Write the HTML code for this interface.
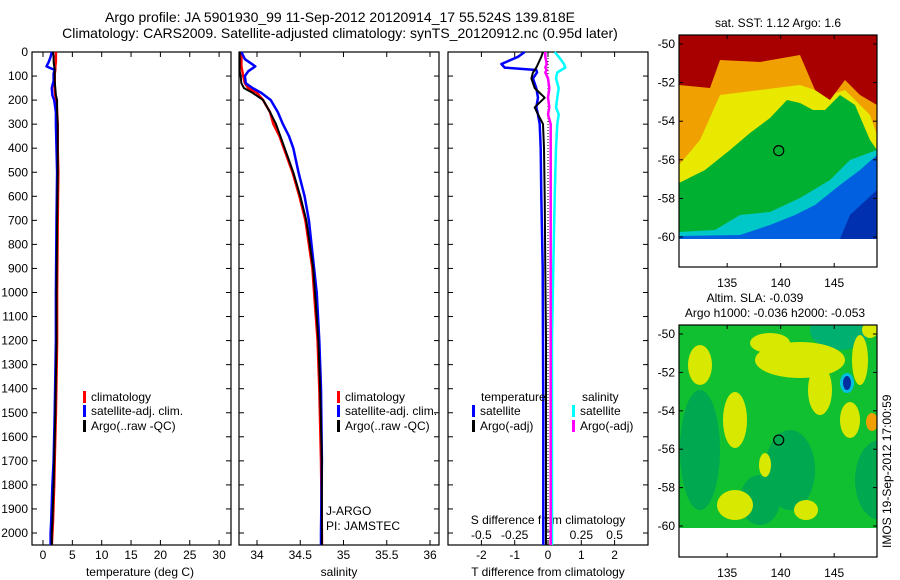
<!DOCTYPE html>
<html><head><meta charset="utf-8"><style>
body{margin:0;background:#fff;width:900px;height:580px;overflow:hidden}
svg{display:block;font-family:"Liberation Sans",sans-serif}
</style></head><body>
<svg id="chart" width="900" height="580" viewBox="0 0 900 580" xmlns="http://www.w3.org/2000/svg">
<defs>
<clipPath id="clipTop"><rect x="679" y="35" width="198" height="204"/></clipPath>
<clipPath id="clipBot"><rect x="679" y="325" width="198" height="203"/></clipPath>
</defs>
<text x="340" y="22" font-size="14" text-anchor="middle">Argo profile: JA 5901930_99 11-Sep-2012 20120914_17 55.524S 139.818E</text>
<text x="340" y="38" font-size="14" text-anchor="middle">Climatology: CARS2009. Satellite-adjusted climatology: synTS_20120912.nc (0.95d later)</text>
<g id="maps"></g>
<g id="plots"></g>
<text transform="translate(891,548) rotate(-90)" font-size="12">IMOS 19-Sep-2012 17:00:59</text>
</svg>
<script>
// ---- data ----
const depthT = [0,20,40,60,75,90,120,150,180,200,250,300,400,500,700,1000,1200,1500,1700,1800,1950,2000,2050];
const tempClim = [2.2,2.2,2.2,2.1,2.1,2.0,2.0,2.0,2.1,2.3,2.4,2.5,2.5,2.6,2.5,2.4,2.4,2.2,2.0,1.9,1.7,1.6,1.5];
const tempSat  = [1.5,1.3,1.0,0.6,2.0,1.8,1.8,1.5,1.6,1.9,2.2,2.2,2.3,2.4,2.3,2.2,2.2,2.0,1.8,1.6,1.4,1.3,1.3];
const tempArgo = [1.7,1.8,1.8,1.9,2.0,2.0,2.0,2.1,2.2,2.4,2.4,2.5,2.5,2.5,2.4,2.3,2.3,2.1,1.9,1.8,1.6,1.5,1.5];
const depthS = [0,30,60,80,100,130,150,170,200,250,300,350,400,500,600,700,800,900,1000,1200,1400,1700,2000,2050];
const salClim = [33.82,33.82,33.82,33.83,33.84,33.86,33.9,34.0,34.07,34.15,34.19,34.26,34.31,34.41,34.49,34.56,34.6,34.64,34.66,34.7,34.72,34.74,34.75,34.75];
const salSat  = [33.82,33.86,33.98,33.9,33.86,33.87,33.95,34.05,34.16,34.24,34.3,34.37,34.42,34.48,34.55,34.6,34.63,34.66,34.69,34.72,34.74,34.75,34.74,34.74];
const salArgo = [33.8,33.8,33.8,33.8,33.81,33.82,33.85,33.95,34.07,34.15,34.22,34.27,34.32,34.42,34.5,34.57,34.61,34.65,34.67,34.71,34.73,34.75,34.75,34.75];
const depthD = [0,20,50,65,75,85,110,150,190,230,260,300,400,600,900,1200,1500,1800,2050];
const dTsat  = [-0.7,-0.9,-1.4,-1.3,-0.35,-0.33,-0.45,-0.35,-0.3,-0.35,-0.3,-0.25,-0.22,-0.2,-0.16,-0.15,-0.14,-0.14,-0.14];
const dTargo = [-0.15,-0.2,-0.3,-0.35,-0.4,-0.45,-0.5,-0.4,-0.1,-0.4,-0.3,-0.15,-0.12,-0.1,-0.08,-0.06,-0.06,-0.06,-0.06];
const dSsat  = [0.05,0.08,0.12,0.13,0.1,0.07,0.06,0.08,0.07,0.06,0.08,0.07,0.06,0.05,0.04,0.03,0.03,0.03,0.03];
const dSargo = [-0.02,-0.02,-0.01,-0.02,-0.01,-0.02,0.0,0.01,0.0,0.01,0.0,0.02,0.02,0.02,0.02,0.02,0.02,0.02,0.02];
const depthTicks = [0,100,200,300,400,500,600,700,800,900,1000,1100,1200,1300,1400,1500,1600,1700,1800,1900,2000];
const tTicks = [0,5,10,15,20,25,30];
const sTicks = [34,34.5,35,35.5,36];
const dTTicks = [-2,-1,0,1,2];
const dSTicks = [-0.5,-0.25,0,0.25,0.5];
const dSTickLabels = ["-0.5","-0.25","0","0.25","0.5"];
const lonTicks = [135,140,145];
const latTicks = [-50,-52,-54,-56,-58,-60];
const floatPos = [139.818,-55.524];

const NS='http://www.w3.org/2000/svg';
const plots=document.getElementById('plots');
function mk(tag,attrs,parent){const e=document.createElementNS(NS,tag);for(const k in attrs)e.setAttribute(k,attrs[k]);(parent||plots).appendChild(e);return e;}
const TOP=52, BOT=545;
const yD = d => TOP + d*0.2405;
const xT = v => 43 + v*5.87;
const xS = v => 257 + (v-34)*86.5;
const xDT = v => 548 + v*33.3;
const xDS = v => 548 + v*133.3;

function frame(x0,x1,name){
  const r=mk('rect',{x:x0,y:TOP,width:x1-x0,height:BOT-TOP,fill:'none',stroke:'#000','stroke-width':1.2});
  
  
  depthTicks.forEach(d=>{const y=yD(d);mk('line',{x1:x0,y1:y,x2:x0+5,y2:y,stroke:'#000'});mk('line',{x1:x1-5,y1:y,x2:x1,y2:y,stroke:'#000'});});
}
function xticks(x0,x1,ticks,fx,labels,ly,name){
  ticks.forEach((t,i)=>{const x=fx(t);mk('line',{x1:x,y1:TOP,x2:x,y2:TOP+5,stroke:'#000'});mk('line',{x1:x,y1:BOT-5,x2:x,y2:BOT,stroke:'#000'});
    const tx=mk('text',{x:x,y:ly,'font-size':12,'text-anchor':'middle'});tx.textContent=labels?labels[i]:String(t);
    
    });
}
function line(depths,vals,fx,color,w,name){
  let p='';depths.forEach((d,i)=>{const x=fx(vals[i]);const y=yD(d);p+=(i?'L':'M')+x.toFixed(1)+','+y.toFixed(1);});
  const e=mk('path',{d:p,fill:'none',stroke:color,'stroke-width':w,'stroke-linejoin':'round'});
  
  
}
function txt(x,y,s,name,anchor,size){const t=mk('text',{x:x,y:y,'font-size':size||12,'text-anchor':anchor||'start'});t.textContent=s;
  
  return t;}
function leg(x,y,color,label,name){mk('rect',{x:x,y:y-10,width:3,height:12,fill:color});txt(x+8,y,label,name);}

// panel 1 temperature
frame(32,231,'temperature-axes');
depthTicks.forEach(d=>{txt(28,yD(d)+4,String(d),'depth-tick-label','end');});
xticks(32,231,tTicks,xT,null,559,'temperature-tick-label');
txt(140,576,'temperature (deg C)','temperature-axis-title','middle');
line(depthT,tempClim,xT,'#f00',2.5,'temp-climatology-line');
line(depthT,tempSat,xT,'#00f',2.5,'temp-satellite-line');
line(depthT,tempArgo,xT,'#000',2,'temp-argo-line');
leg(83,401,'#f00','climatology','legend-climatology');
leg(83,415,'#00f','satellite-adj. clim.','legend-satellite');
leg(83,430,'#000','Argo(..raw -QC)','legend-argo');

// panel 2 salinity
frame(239,439,'salinity-axes');
xticks(239,439,sTicks,xS,null,559,'salinity-tick-label');
txt(339,576,'salinity','salinity-axis-title','middle');
line(depthS,salClim,xS,'#f00',2.5,'sal-climatology-line');
line(depthS,salSat,xS,'#00f',2.5,'sal-satellite-line');
line(depthS,salArgo,xS,'#000',2,'sal-argo-line');
leg(337,401,'#f00','climatology','legend-climatology-s');
leg(337,415,'#00f','satellite-adj. clim.','legend-satellite-s');
leg(337,430,'#000','Argo(..raw -QC)','legend-argo-s');
txt(326,515,'J-ARGO','pi-program');
txt(326,530,'PI: JAMSTEC','pi-name');

// panel 3 differences
frame(448,648,'difference-axes');
xticks(448,648,dTTicks,xDT,null,559,'t-diff-tick-label');
dSTicks.forEach((t,i)=>{txt(xDS(t),539,dSTickLabels[i],'s-diff-tick-label','middle');});
txt(548,524,'S difference from climatology','s-diff-axis-title','middle');
txt(548,576,'T difference from climatology','t-diff-axis-title','middle');
mk('line',{x1:xDT(0),y1:TOP,x2:xDT(0),y2:BOT,stroke:'#000','stroke-dasharray':'1,2'});
line(depthD,dSsat,xDS,'#0ff',2.5,'s-diff-satellite-line');
line(depthD,dSargo,xDS,'#f0f',2.5,'s-diff-argo-line');
line(depthD,dTsat,xDT,'#00f',2.5,'t-diff-satellite-line');
line(depthD,dTargo,xDT,'#000',2,'t-diff-argo-line');
txt(481,401,'temperature','legend-temperature-header');
txt(582,401,'salinity','legend-salinity-header');
leg(472,415,'#00f','satellite','legend-t-satellite');
leg(472,430,'#000','Argo(-adj)','legend-t-argo');
leg(572,415,'#0ff','satellite','legend-s-satellite');
leg(572,430,'#f0f','Argo(-adj)','legend-s-argo');

// ---- maps ----
const maps=document.getElementById('maps');
function mm(tag,attrs,parent){return mk(tag,attrs,parent||maps);}
function mapAxes(top,bot,dataTop,dataBot,name){
  const x0=679,x1=877;
  const lon=v=>x0+(v-130.5)*(x1-x0)/18.5;
  const lat=v=>dataTop+9+(-50-v)*(dataBot-dataTop-11)/10;
  mm('rect',{x:x0,y:top,width:x1-x0,height:bot-top,fill:'none',stroke:'#000','stroke-width':1.2});
  lonTicks.forEach(v=>{const x=lon(v);mm('line',{x1:x,y1:top,x2:x,y2:top+4,stroke:'#000'});mm('line',{x1:x,y1:bot-4,x2:x,y2:bot,stroke:'#000'});
    const t=mm('text',{x:x,y:bot+20,'font-size':12,'text-anchor':'middle'});t.textContent=v;
    
    });
  latTicks.forEach(v=>{const y=lat(v);mm('line',{x1:x0,y1:y,x2:x0+4,y2:y,stroke:'#000'});mm('line',{x1:x1-4,y1:y,x2:x1,y2:y,stroke:'#000'});
    const t=mm('text',{x:x0-4,y:y+4,'font-size':12,'text-anchor':'end'});t.textContent=v;
    
    });
  const c=mm('circle',{cx:lon(floatPos[0]),cy:lat(floatPos[1]),r:5,fill:'none',stroke:'#000','stroke-width':1.2});
  
  
}
function poly(pts,fill,parent){const e=document.createElementNS(NS,'polygon');e.setAttribute('points',pts);e.setAttribute('fill',fill);parent.appendChild(e);}
// SST map
const sst=mm('g',{'clip-path':'url(#clipTop)'});


poly('679,35 877,35 877,239 679,239','#00c8c8',sst);
poly('679,239 877,239 877,155 860,170 840,185 815,205 795,215 770,225 740,235 679,236','#0060e0',sst);
poly('877,190 877,239 840,239 850,215','#0030b0',sst);
poly('679,35 877,35 877,150 850,160 830,180 800,198 770,212 740,215 715,230 679,232','#00b030',sst);
poly('679,35 877,35 877,150 870,140 855,105 840,95 825,110 813,110 800,103 787,100 770,118 750,133 730,150 705,170 679,183','#e8e800',sst);
poly('679,35 877,35 877,135 870,115 845,90 830,95 815,90 800,85 760,90 720,95 700,140 679,165','#f0a000',sst);
poly('679,35 877,35 877,105 860,95 845,80 830,100 815,90 800,55 760,62 720,60 710,88 679,85','#a80000',sst);
const sst2=mm('text',{x:778,y:27,'font-size':12,'text-anchor':'middle'});sst2.textContent='sat. SST: 1.12 Argo: 1.6';


mapAxes(35,267,35,239,'sst-map-axes');
// SLA map
const sla=mm('g',{'clip-path':'url(#clipBot)'});


poly('679,325 877,325 877,528 679,528','#10c030',sla);
[[700,450,20,60,'#00a850'],[790,470,25,40,'#00a850'],[880,480,25,40,'#00a850'],[840,330,30,20,'#00b070'],[760,500,20,25,'#00a850']].forEach(e=>mm('ellipse',{cx:e[0],cy:e[1],rx:e[2],ry:e[3],fill:e[4]},sla));
[[735,420,12,28],[800,360,45,18],[820,390,12,25],[770,343,20,10],[860,360,8,25],[850,420,10,18],[735,505,18,15],[806,510,12,10],[765,465,6,12],[700,365,12,20],[870,330,8,8]].forEach(e=>mm('ellipse',{cx:e[0],cy:e[1],rx:e[2],ry:e[3],fill:'#d8e800'},sla));
mm('ellipse',{cx:872,cy:422,rx:6,ry:9,fill:'#f0a000'},sla);
mm('ellipse',{cx:847,cy:383,rx:7,ry:10,fill:'#00c0e0'},sla);
mm('ellipse',{cx:847,cy:383,rx:4,ry:7,fill:'#0030a0'},sla);
const sl1=mm('text',{x:755,y:302,'font-size':12,'text-anchor':'middle'});sl1.textContent='Altim. SLA: -0.039';


const sl2=mm('text',{x:775,y:317,'font-size':12,'text-anchor':'middle'});sl2.textContent='Argo h1000: -0.036 h2000: -0.053';


mapAxes(325,557,325,528,'sla-map-axes');
</script>
</body></html>
